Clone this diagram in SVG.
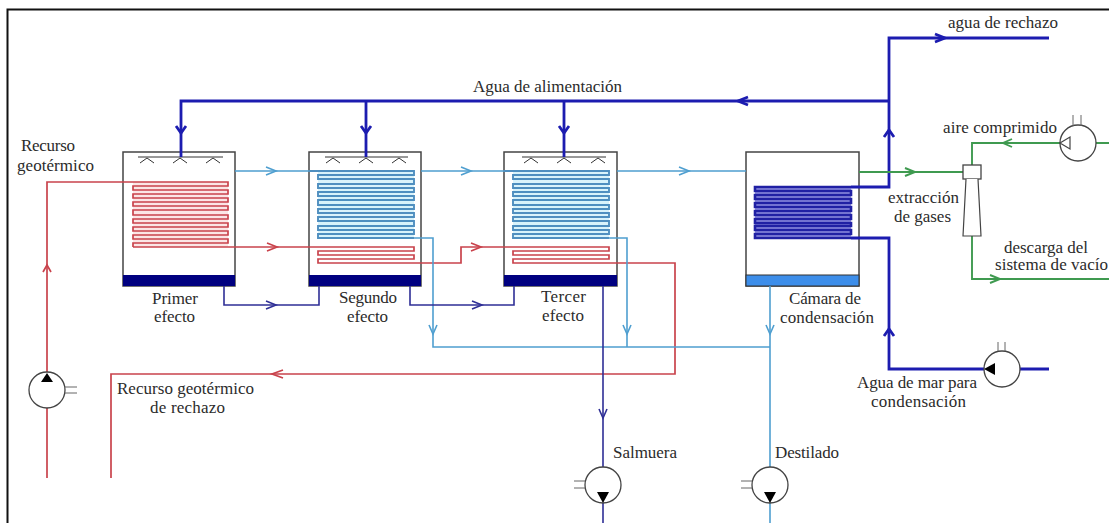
<svg xmlns="http://www.w3.org/2000/svg" width="1109" height="523" viewBox="0 0 1109 523">
<style>
text{font-family:"Liberation Serif","DejaVu Serif",serif;font-size:17px;fill:#2b2b2b}
.box{fill:#fff;stroke:#444;stroke-width:1.5}
.spray{fill:none;stroke:#333;stroke-width:1}
.pump{fill:#fff;stroke:#444;stroke-width:1.3}
.stub{fill:none;stroke:#666;stroke-width:1}
.tip{fill:#000}
.l{fill:none;stroke-linejoin:miter}
.red{stroke:#c9434c;stroke-width:1.7}
.sky{stroke:#4f9fd0;stroke-width:1.6}
.navy{stroke:#2f2f96;stroke-width:1.6}
.feed{stroke:#1c1cb0;stroke-width:2.8}
.green{stroke:#3f9a50;stroke-width:1.9}
.coilr{fill:none;stroke:#c9434c;stroke-width:1.7}
.coilb{fill:none;stroke:#4f8fc0;stroke-width:1.9}
.coilc{fill:none;stroke:#2020a4;stroke-width:2.6}
</style>
<rect x="0" y="0" width="1109" height="523" fill="#fff"/>
<path d="M7.500 523V9.500H1109" fill="none" stroke="#111" stroke-width="2"/>

<g id="primer-efecto">
<rect class="box" x="123" y="152" width="112" height="134"/>
<rect x="123" y="275" width="112" height="11" fill="#000080"/>
<rect x="133" y="182" width="95" height="65" fill="#fbe6e6"/>
<path class="spray" d="M138 157H223M140 163L147 158L154 163M173 163L180 158L187 163M206 163L213 158L220 163"/>
<path class="coilr" d="M123 182H228V186H133V190H228V194H133V198H228V202H133V206H228V210H133V215H228V219H133V223H228V227H133V231H228V235H133V239H228V243H133V247"/>
<text x="152" y="304" textLength="46">Primer</text>
<text x="154" y="322" textLength="41">efecto</text>
</g>

<g id="segundo-efecto">
<rect class="box" x="309" y="152" width="112" height="134"/>
<rect x="309" y="275" width="112" height="11" fill="#000080"/>
<rect x="318" y="171" width="96" height="67" fill="#d9f3fb"/>
<path class="spray" d="M325 157H408M326 163L333 158L340 163M359 163L366 158L373 163M392 163L399 158L406 163"/>
<path class="coilb" d="M309 171H414V175H318V179H414V184H318V188H414V192H318V196H414V200H318V205H414V209H318V213H414V217H318V221H414V226H318V230H414V234H318V238H414"/>
<path class="coilr" d="M309 247H414V251H318V255H414V259H318V263H421"/>
<text x="339" y="303" textLength="58">Segundo</text>
<text x="347" y="322" textLength="41">efecto</text>
</g>

<g id="tercer-efecto">
<rect class="box" x="504" y="152" width="113" height="134"/>
<rect x="504" y="275" width="113" height="11" fill="#000080"/>
<rect x="513" y="171" width="96" height="67" fill="#d9f3fb"/>
<path class="spray" d="M522 157H606M524 163L531 158L538 163M557 163L564 158L571 163M591 163L598 158L605 163"/>
<path class="coilb" d="M504 171H609V175H513V179H609V184H513V188H609V192H513V196H609V200H513V205H609V209H513V213H609V217H513V221H609V226H513V230H609V234H513V238H609"/>
<path class="coilr" d="M504 247H609V251H513V255H609V259H513V263H617"/>
<text x="541" y="302" textLength="45">Tercer</text>
<text x="542" y="321" textLength="42">efecto</text>
</g>

<g id="camara-condensacion">
<rect class="box" x="746" y="152" width="113" height="134"/>
<rect x="746" y="275" width="113" height="11" fill="#3d8eea" stroke="#333" stroke-width="1"/>
<rect x="755" y="187" width="96" height="51" fill="#8f8fe0"/>
<path class="coilc" d="M851 187H755V191H851V195H755V199H851V203H755V207H851V211H755V215H851V219H755V223H851V226H755V230H851V234H755V238H851"/>
<text x="789" y="304" textLength="72">Cámara de</text>
<text x="780" y="323" textLength="94">condensación</text>
</g>

<g id="connectors">
<path class="l red" d="M47 478V182H123"/>
<path class="l red" d="M133 247H309"/>
<path class="l red" d="M421 263H461V247H504"/>
<path class="l red" d="M617 263H675V374H111V478"/>
<path class="l red" d="M43 272L47 265L51 272M267 243L277 247L267 251M471 243L481 247L471 251M283 370L272 374L283 378"/>
<path class="l sky" d="M235 171H309M421 171H504M617 171H746"/>
<path class="l sky" d="M414 238H433V347H770M609 238H627V347M770 286V523"/>
<path class="l sky" d="M266 167L276 171L266 175M461 167L471 171L461 175M679 167L689 171L679 175M429 325L433 334L437 325M623 325L627 334L631 325M766 325L770 334L774 325"/>
<path class="l navy" d="M224 286V305H319V286M410 286V305H514V286M603 286V523"/>
<path class="l navy" d="M266 301L276 305L266 309M472 301L482 305L472 309M599 409L603 418L607 409"/>
<path class="l feed" d="M851 187H889V38H1049M889 101H181V157M366 101V157M564 101V157M851 238H889V369H1049"/>
<path class="l feed" d="M935 34L945 38L935 42M748 97L738 101L748 105M884 137L889 130L894 137M884 336L889 329L894 336M176 126L181 133L186 126M361 126L366 133L371 126M559 126L564 133L569 126"/>
<path class="l green" d="M859 172H963M972 165V143H1060M972 236V279H1109M1096 143H1109"/>
<path class="l green" d="M905 168L915 172L905 176M1012 139L1003 143L1012 147M990 275L1000 279L990 283"/>
</g>

<g id="bomba-geotermica">
<circle class="pump" cx="47" cy="390" r="18"/>
<path class="tip" d="M47 373L41 382H53Z"/>
<path class="stub" d="M65 387H77M65 393H77"/>
</g>
<g id="bomba-salmuera">
<circle class="pump" cx="603" cy="485" r="18"/>
<path class="tip" d="M603 503L597 492H609Z"/>
<path class="stub" d="M574 481H585M574 488H585"/>
</g>
<g id="bomba-destilado">
<circle class="pump" cx="770" cy="485" r="18"/>
<path class="tip" d="M770 503L764 492H776Z"/>
<path class="stub" d="M741 481H752M741 488H752"/>
</g>
<g id="bomba-mar">
<circle class="pump" cx="1002" cy="369" r="18"/>
<path class="tip" d="M984 369L995 363V375Z"/>
<path class="stub" d="M998 342V351M1005 342V351"/>
</g>
<g id="compresor">
<circle class="pump" cx="1078" cy="143" r="18"/>
<path d="M1060 143L1070 137V149Z" fill="#fff" stroke="#444" stroke-width="1.2"/>
<path class="stub" d="M1073 115V126M1081 115V126"/>
</g>
<g id="eyector">
<rect x="963" y="165" width="18" height="14" fill="#fff" stroke="#444" stroke-width="1.3"/>
<path d="M966 179L963 236H981L978 179" fill="#fff" stroke="#444" stroke-width="1.2"/>
</g>

<g id="labels">
<text x="21" y="151" textLength="54">Recurso</text>
<text x="17" y="171" textLength="77">geotérmico</text>
<text x="473" y="92" textLength="149">Agua de alimentación</text>
<text x="948" y="28" textLength="110">agua de rechazo</text>
<text x="943" y="133" textLength="114">aire comprimido</text>
<text x="888" y="203" textLength="71">extracción</text>
<text x="894" y="222" textLength="57">de gases</text>
<text x="1004" y="253" textLength="84">descarga del</text>
<text x="995" y="270" textLength="113">sistema de vacío</text>
<text x="857" y="388" textLength="120">Agua de mar para</text>
<text x="871" y="407" textLength="95">condensación</text>
<text x="775" y="458" textLength="64">Destilado</text>
<text x="613" y="458" textLength="64">Salmuera</text>
<text x="117" y="394" textLength="137">Recurso geotérmico</text>
<text x="150" y="413" textLength="75">de rechazo</text>
</g>
</svg>
